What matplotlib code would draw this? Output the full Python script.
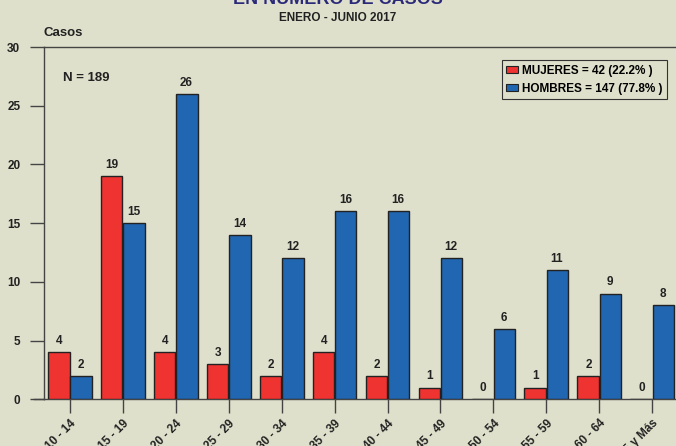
import numpy as np
import matplotlib.pyplot as plt
from matplotlib.patches import Patch
from matplotlib.lines import Line2D

# data
grupos = ['10 - 14', '15 - 19', '20 - 24', '25 - 29', '30 - 34', '35 - 39',
          '40 - 44', '45 - 49', '50 - 54', '55 - 59', '60 - 64', '65 y Más']
mujeres = [4, 19, 4, 3, 2, 4, 2, 1, 0, 1, 2, 0]
hombres = [2, 15, 26, 14, 12, 16, 16, 12, 6, 11, 9, 8]
etiquetas = ['MUJERES = 42 (22.2% )', 'HOMBRES = 147 (77.8% )']

bg = '#DFE0CB'
rojo = '#EE3330'
azul = '#2166B0'
txt = '#222222'
plt.rcParams['font.family'] = ['Liberation Sans', 'DejaVu Sans']
plt.rcParams['font.weight'] = 'bold'

W, H = 676, 446
fig = plt.figure(figsize=(W / 100, H / 100), dpi=100, facecolor=bg)
ax = fig.add_axes([44 / W, 1 - 399.3 / H, 1 - 44 / W, 352.3 / H])
ax.set_facecolor(bg)

x = np.arange(len(grupos))
bw = 0.405
ax.bar(x - bw / 2 - 0.008, mujeres, bw, color=rojo, edgecolor='#222', linewidth=1, zorder=3)
ax.bar(x + bw / 2 + 0.008, hombres, bw, color=azul, edgecolor='#222', linewidth=1, zorder=3)

for i in range(len(grupos)):
    ax.text(x[i] - bw / 2, mujeres[i] + 0.45, str(mujeres[i]), ha='center', va='bottom',
            fontsize=8.5, fontweight='bold', color=txt)
    ax.text(x[i] + bw / 2, hombres[i] + 0.45, str(hombres[i]), ha='center', va='bottom',
            fontsize=8.5, fontweight='bold', color=txt)

ax.set_xlim(-0.49, 11.45)
ax.set_ylim(0, 30)
ax.set_yticks(range(0, 31, 5))
ax.set_xticks(x)
ax.set_xticklabels(grupos, rotation=45, ha='right', rotation_mode='anchor')
ax.tick_params(axis='both', length=10, width=1, color='#444', labelsize=8.5, labelcolor=txt)
ax.tick_params(axis='y', pad=7)
ax.tick_params(axis='x', pad=3)
for lab in ax.get_xticklabels() + ax.get_yticklabels():
    lab.set_fontweight('bold')

for s in ['left', 'top', 'bottom']:
    ax.spines[s].set_color('#444')
    ax.spines[s].set_linewidth(1)
ax.spines['right'].set_visible(False)
# x axis line extends a bit left of the y axis
ax.add_line(Line2D([-10 / 632, 0], [0, 0], transform=ax.transAxes, color='#444',
                   linewidth=1, clip_on=False))

fig.text(0.5, 1 - 4 / H, 'EN NUMERO DE CASOS', ha='center', va='baseline',
         fontsize=13, fontweight='bold', color='#2B2A7A')
fig.text(0.5, 1 - 18 / H, 'ENERO - JUNIO 2017', ha='center', va='center',
         fontsize=8.5, fontweight='bold', color=txt)
fig.text(44 / W, 1 - 33 / H, 'Casos', ha='left', va='center',
         fontsize=9.5, fontweight='bold', color=txt)
fig.text(63 / W, 1 - 78 / H, 'N = 189', ha='left', va='center',
         fontsize=9.5, fontweight='bold', color=txt)

handles = [Patch(facecolor=rojo, edgecolor='#222', linewidth=0.8),
           Patch(facecolor=azul, edgecolor='#222', linewidth=0.8)]
leg = fig.legend(handles, etiquetas, loc='upper right', bbox_to_anchor=(667 / W, 1 - 60 / H),
                 fancybox=False, framealpha=1, facecolor=bg, edgecolor='#333',
                 prop={'size': 8.5, 'weight': 'bold'}, handlelength=1.0, handleheight=0.5,
                 handletextpad=0.3, borderpad=0.4, labelspacing=0.5, borderaxespad=0)
leg.get_frame().set_linewidth(0.8)

fig.savefig('out.png', dpi=100, facecolor=bg)
